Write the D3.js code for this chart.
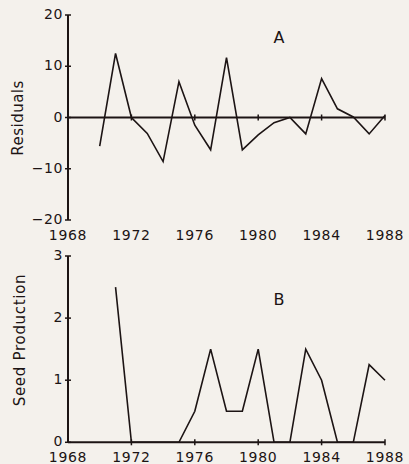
<!DOCTYPE html>
<html>
<head>
<meta charset="utf-8">
<script src="https://cdn.jsdelivr.net/npm/d3@7"></script>
<style>
  html, body { margin: 0; padding: 0; background: #f4f1ec; }
  svg { display: block; }
  text { font-family: "DejaVu Sans", sans-serif; fill: #1c1414; }
</style>
</head>
<body>
<svg id="chart" width="409" height="464"></svg>
<script>
// Panel A: residuals by year
const residualYears = [1970, 1971, 1972, 1973, 1974, 1975, 1976, 1977, 1978, 1979,
                       1980, 1981, 1982, 1983, 1984, 1985, 1986, 1987, 1988];
const residuals = [-5.6, 12.5, 0, -3.1, -8.6, 7.0, -1.5, -6.3, 11.7, -6.3,
                   -3.4, -1.0, 0, -3.2, 7.6, 1.7, 0.1, -3.2, 0.4];

// Panel B: seed production by year
const seedYears = [1971, 1972, 1973, 1974, 1975, 1976, 1977, 1978, 1979,
                   1980, 1981, 1982, 1983, 1984, 1985, 1986, 1987, 1988];
const seedProduction = [2.5, 0, 0, 0, 0, 0.5, 1.5, 0.5, 0.5,
                        1.5, 0, 0, 1.5, 1.0, 0, 0, 1.25, 1.0];

const yearTicks = [1968, 1972, 1976, 1980, 1984, 1988];
const residualTicks = [-20, -10, 0, 10, 20];
const seedTicks = [0, 1, 2, 3];

const ink = '#1c1414';
const svg = d3.select('#chart');

const x = d3.scaleLinear().domain([1968, 1988]).range([68, 385]);
const yA = d3.scaleLinear().domain([-20, 20]).range([220, 15]);
const yB = d3.scaleLinear().domain([0, 3]).range([442.3, 256]);

const fmt = d => d < 0 ? '\u2212' + Math.abs(d) : String(d);

// crossing tick marks on a vertical axis
function yAxis(scale, ticks) {
  const g = svg.append('g');
  g.append('line')
    .attr('x1', x(1968)).attr('x2', x(1968))
    .attr('y1', scale.range()[0]).attr('y2', scale.range()[1])
    .attr('stroke', ink).attr('stroke-width', 2);
  g.selectAll('line.tick')
    .data(ticks)
    .join('line')
    .attr('class', 'tick')
    .attr('x1', x(1968) - 3).attr('x2', x(1968) + 3)
    .attr('y1', d => scale(d)).attr('y2', d => scale(d))
    .attr('stroke', ink).attr('stroke-width', 1.5);
  g.selectAll('text')
    .data(ticks)
    .join('text')
    .attr('x', x(1968) - 5)
    .attr('y', d => scale(d) - 1)
    .attr('dy', '0.36em')
    .attr('text-anchor', 'end')
    .style('font-size', '14px')
    .style('letter-spacing', '0.6px')
    .text(fmt);
}

// horizontal axis line at a given y value, with crossing ticks
function xLine(yPos) {
  const g = svg.append('g');
  g.append('line')
    .attr('x1', x(1968)).attr('x2', x(1988))
    .attr('y1', yPos).attr('y2', yPos)
    .attr('stroke', ink).attr('stroke-width', 2);
  g.selectAll('line.tick')
    .data(yearTicks.slice(1))
    .join('line')
    .attr('class', 'tick')
    .attr('x1', d => x(d)).attr('x2', d => x(d))
    .attr('y1', yPos - 3).attr('y2', yPos + 3)
    .attr('stroke', ink).attr('stroke-width', 1.5);
}

function yearLabels(baseline) {
  svg.append('g').selectAll('text')
    .data(yearTicks)
    .join('text')
    .attr('x', d => x(d))
    .attr('y', baseline)
    .attr('text-anchor', 'middle')
    .style('font-size', '14px')
    .style('letter-spacing', '0.7px')
    .text(d => d);
}

function series(xs, ys, yScale) {
  const line = d3.line()
    .x(d => x(d[0]))
    .y(d => yScale(d[1]));
  svg.append('path')
    .datum(xs.map((v, i) => [v, ys[i]]))
    .attr('d', line)
    .attr('fill', 'none')
    .attr('stroke', ink)
    .attr('stroke-width', 1.6)
    .attr('stroke-linejoin', 'miter');
}

// Panel A
yAxis(yA, residualTicks);
xLine(yA(0));
yearLabels(239.5);
series(residualYears, residuals, yA);
svg.append('text')
  .attr('x', 279).attr('y', 43.3)
  .attr('text-anchor', 'middle')
  .style('font-size', '16px')
  .text('A');
svg.append('text')
  .attr('transform', 'translate(23,118) rotate(-90)')
  .attr('text-anchor', 'middle')
  .style('font-size', '15px')
  .style('letter-spacing', '0.5px')
  .text('Residuals');

// Panel B
yAxis(yB, seedTicks);
xLine(yB(0));
yearLabels(462);
series(seedYears, seedProduction, yB);
svg.append('text')
  .attr('x', 279).attr('y', 305)
  .attr('text-anchor', 'middle')
  .style('font-size', '16px')
  .text('B');
svg.append('text')
  .attr('transform', 'translate(25,340) rotate(-90)')
  .attr('text-anchor', 'middle')
  .style('font-size', '15px')
  .style('letter-spacing', '0.7px')
  .text('Seed Production');
</script>
</body>
</html>
